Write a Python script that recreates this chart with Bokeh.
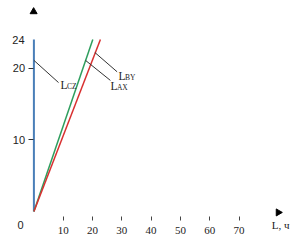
import numpy as np
from bokeh.plotting import figure
from bokeh.models import FixedTicker, Range1d, ColumnDataSource, LinearAxis
from bokeh.core.properties import value
from bokeh.embed import file_html
from bokeh.resources import INLINE

# ---- data ----
x_ticks = [10, 20, 30, 40, 50, 60, 70]
y_ticks = [10, 20]
y_extra_vals = [24, 0]
y_extra_labels = ["24", "0"]

cz_x = [0, 0]
cz_y = [0, 24]
ax_x = [0, 20.1]
ax_y = [0, 24]
by_x = [0, 22.7]
by_y = [0, 24]

# leader lines
lead_x0 = [0.0, 17.6, 20.8]
lead_y0 = [21.1, 21.1, 22.2]
lead_x1 = [8.4, 26.1, 28.4]
lead_y1 = [18.0, 18.3, 19.5]

lab_x = [9.1, 26.1, 28.9]
lab_y = [17.6, 17.5, 18.9]
lab_main = ["L", "L", "L"]
lab_sub = ["CZ", "AX", "BY"]

x_axis_title = "L, ч"

SERIF = "Liberation Serif"
SANS = "Liberation Sans"

p = figure(width=304, height=244, output_backend="svg", toolbar_location=None,
           x_range=Range1d(-11.40, 92.35), y_range=Range1d(-4.62, 29.46),
           x_axis_type=None, y_axis_type=None,
           min_border_left=0, min_border_right=0, min_border_top=0, min_border_bottom=0)
p.outline_line_color = None
p.grid.visible = False
p.background_fill_color = "white"
p.border_fill_color = "white"

# axes drawn inside the frame at fixed data locations
xax = LinearAxis(ticker=FixedTicker(ticks=x_ticks), fixed_location=-0.71)
xax.axis_line_color = None
xax.major_tick_in = 0
xax.major_tick_out = 4
xax.minor_tick_line_color = None
xax.major_tick_line_color = "#444444"
xax.major_label_standoff = 6
xax.major_label_text_font = SERIF
xax.major_label_text_font_size = "11px"
xax.major_label_text_color = "#222222"
p.add_layout(xax, "below")

yax = LinearAxis(ticker=FixedTicker(ticks=y_ticks), fixed_location=-0.3)
yax.axis_line_color = None
yax.major_tick_in = 0
yax.major_tick_out = 5
yax.minor_tick_line_color = None
yax.major_tick_line_color = "#333333"
yax.major_label_standoff = 3
yax.major_label_text_font = SANS
yax.major_label_text_font_size = "11px"
yax.major_label_text_color = "#222222"
p.add_layout(yax, "left")

# lines
p.line(cz_x, cz_y, line_color="#4a7fb8", line_width=2)
p.line(ax_x, ax_y, line_color="#2e9e5e", line_width=1.5)
p.line(by_x, by_y, line_color="#d83030", line_width=1.5)

# leaders
p.segment(x0=lead_x0, y0=lead_y0, x1=lead_x1, y1=lead_y1, line_color="#333333", line_width=1)

src = ColumnDataSource(dict(x=lab_x, y=lab_y, m=lab_main, s=lab_sub))
p.text(x="x", y="y", text="m", source=src, text_font=value(SERIF), text_font_size="11.5px",
       text_color="#222222", text_baseline="middle", text_align="left")
p.text(x="x", y="y", text="s", source=src, text_font=value(SERIF), text_font_size="7.5px",
       text_color="#222222", text_baseline="middle", text_align="left", x_offset=6.5, y_offset=1.2)

# arrows
p.scatter([-0.1], [27.9], marker="triangle", size=7, fill_color="black", line_color="black")
p.scatter([83.4], [-0.14], marker="triangle", size=7, angle=-np.pi / 2,
          fill_color="black", line_color="black")

# extra tick labels and axis title
p.text(x=[-3.2], y=[y_extra_vals[0]], text=[y_extra_labels[0]], text_align="right", text_baseline="middle",
       text_font=value(SANS), text_font_size="11px", text_color="#222222")
p.text(x=[-4.57], y=[y_extra_vals[1] - 1.83], text=[y_extra_labels[1]], text_align="center",
       text_baseline="middle", text_font=value(SANS), text_font_size="11px", text_color="#222222")
p.text(x=[84.2], y=[-1.83], text=[x_axis_title], text_align="center", text_baseline="middle",
       text_font=value(SERIF), text_font_size="11px", text_color="#222222")

open("out.html", "w").write(file_html(p, INLINE))
